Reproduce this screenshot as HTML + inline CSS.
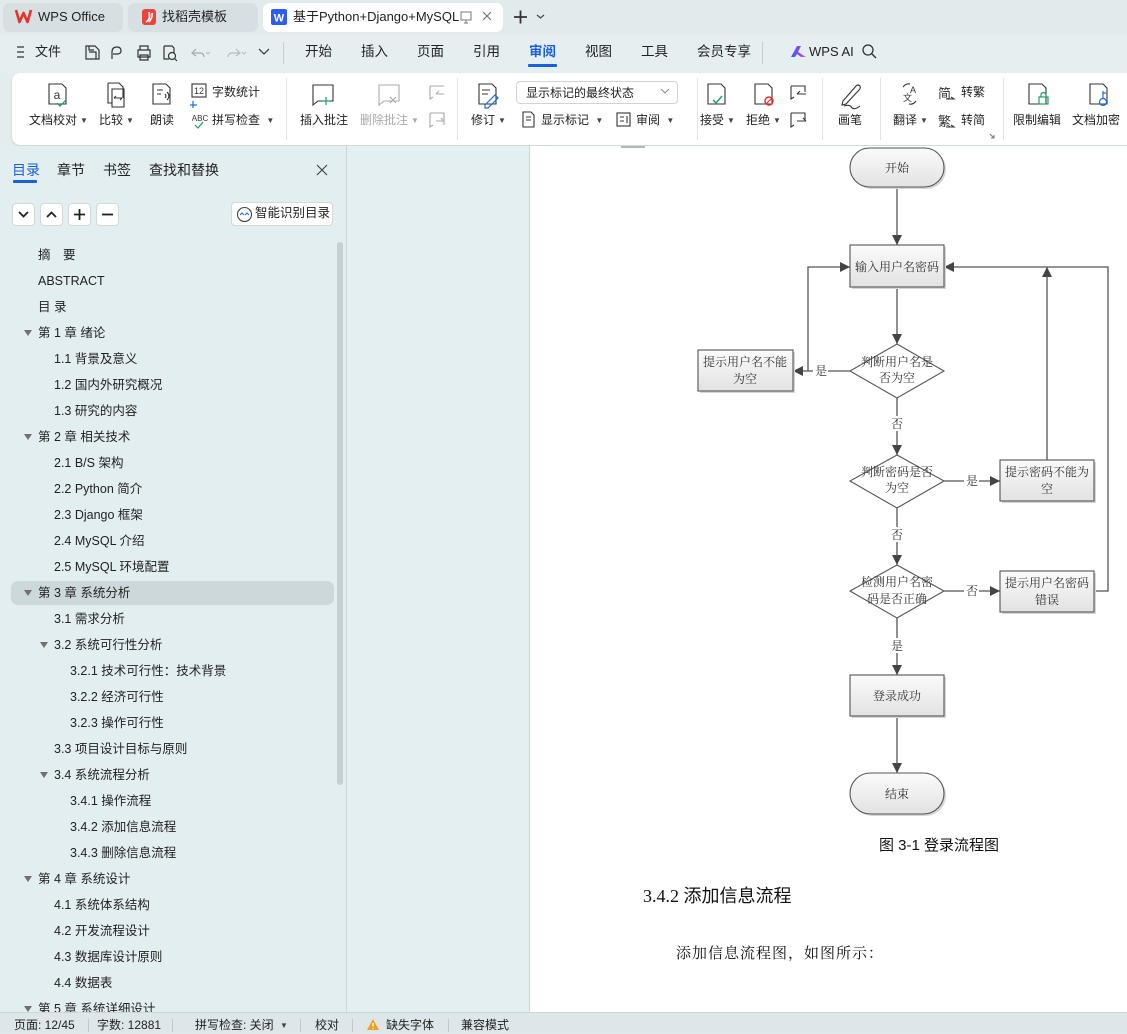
<!DOCTYPE html>
<html><head><meta charset="utf-8">
<style>
*{margin:0;padding:0;box-sizing:border-box}
body{width:1127px;height:1033px;overflow:hidden;background:#e3edee;font-family:"Liberation Sans","Noto Sans CJK SC",sans-serif;color:#222;position:relative}
.a{position:absolute;white-space:nowrap}
.toc{position:absolute;white-space:nowrap;font-size:12.5px;line-height:16px;color:#222}
.tri{position:absolute;width:0;height:0;border-left:4px solid transparent;border-right:4px solid transparent;border-top:6px solid #707070}
.rl{position:absolute;white-space:nowrap;font-size:12px;line-height:16px;color:#222}
.dd{font-size:8px;color:#444;margin-left:3px;vertical-align:1px}
.sep{position:absolute;width:1px;background:#e2e4e4}
.sb{position:absolute;white-space:nowrap;font-size:12px;line-height:16px;color:#222;top:1017px}
.ss{position:absolute;width:1px;height:13px;background:#bfc8ca;top:1019px}
.btn{position:absolute;width:23px;height:23px;background:#fff;border:1px solid #d3d8d9;border-radius:4px}
</style></head><body>

<!-- tab bar -->
<div class="a" style="left:0;top:0;width:1127px;height:35px;background:#e1ebec"></div>
<div class="a" style="left:3px;top:3px;width:120px;height:29px;background:#d6e0e2;border-radius:7px"></div>
<div class="a" style="left:128px;top:3px;width:130px;height:29px;background:#d6e0e2;border-radius:7px"></div>
<div class="a" style="left:263px;top:3px;width:240px;height:29px;background:#fff;border-radius:7px"></div>
<svg class="a" style="left:0;top:0" width="560" height="35">
  <path d="M16 10 L19.5 22 L23.5 13 L27.5 22 L31 10" fill="none" stroke="#e8332a" stroke-width="2.6" stroke-linejoin="round"/>
  <rect x="142" y="9" width="14" height="16" rx="3" fill="#e8463c"/>
  <path d="M146 22 Q151 19 149 12 M149 22 Q153 17 152 13" stroke="#fff" stroke-width="1.6" fill="none"/>
  <rect x="271" y="9" width="16" height="16" rx="2" fill="#2f5cf0"/>
  <text x="279" y="21.5" font-size="11" font-weight="bold" fill="#fff" text-anchor="middle" font-family="Liberation Sans">W</text>
  <rect x="461" y="12" width="10" height="8" fill="none" stroke="#777" stroke-width="1"/>
  <path d="M464 23 H468 M466 20 V23" stroke="#777"/>
  <path d="M483 12 L491 20 M491 12 L483 20" stroke="#777" stroke-width="1.2"/>
  <path d="M514 17 H527 M520.5 10.5 V23.5" stroke="#333" stroke-width="1.8"/>
  <path d="M537 15 L540.5 18 L544 15" fill="none" stroke="#444" stroke-width="1.2"/>
</svg>
<div class="a" style="left:38px;top:8px;font-size:13px;line-height:18px">WPS Office</div>
<div class="a" style="left:162px;top:8px;font-size:13px;line-height:18px">找稻壳模板</div>
<div class="a" style="left:293px;top:8px;font-size:13px;line-height:18px;width:166px;overflow:hidden">基于Python+Django+MySQL数据库</div>

<!-- menu row -->
<div class="a" style="left:0;top:35px;width:1127px;height:38px;background:#e5eff0"></div>
<svg class="a" style="left:0;top:35px" width="900" height="36">
  <path d="M17 12 H24 M17 17 H24 M17 22 H24" stroke="#333" stroke-width="1.2"/>
  <path d="M86 11 H95 L99 15 V24 H86 Z M89 17 H96 V24 M89 11 V15 H94" fill="none" stroke="#333" stroke-width="1.2"/>
  <path d="M112 24 L112 17 Q112 12 117 12 Q121 12 121 16 Q121 19 117 19 L113 19" fill="none" stroke="#333" stroke-width="1.2"/>
  <path d="M138 15 H150 V22 H138 Z M140 15 V11 H148 V15 M140 20 H148 V25 H140 Z" fill="none" stroke="#333" stroke-width="1.2"/>
  <path d="M164 11 H172 L174 13 V18 M164 11 V24 H169" fill="none" stroke="#333" stroke-width="1.2"/>
  <circle cx="172" cy="21" r="3.5" fill="none" stroke="#333" stroke-width="1.2"/><path d="M174.5 23.5 L177 26" stroke="#333" stroke-width="1.2"/>
  <path d="M196 14 L192 18 L196 21 M192 18 H200 Q204 18 204 22" fill="none" stroke="#aaa" stroke-width="1.2"/>
  <path d="M206 17 L208 19 L210 17" fill="none" stroke="#bbb"/>
  <path d="M236 14 L240 18 L236 21 M240 18 H232 Q228 18 228 22" fill="none" stroke="#bbb" stroke-width="1.2"/>
  <path d="M242 17 L244 19 L246 17" fill="none" stroke="#bbb"/>
  <path d="M259 14 L264 19 L269 14" fill="none" stroke="#444" stroke-width="1.3"/>
  <rect x="283" y="7" width="1" height="22" fill="#c5cdcf"/>
  <rect x="762" y="7" width="1" height="22" fill="#c5cdcf"/>
  <rect x="528" y="29" width="29" height="3" rx="1" fill="#1a5fe0"/>
  <defs><linearGradient id="ai" x1="0" x2="1"><stop offset="0" stop-color="#3a5cf5"/><stop offset="0.6" stop-color="#8a4cf0"/><stop offset="1" stop-color="#f06aa0"/></linearGradient></defs>
  <path d="M791 22 L797 11 H801 L798 17 L806 22 H801 L797 19 L795 22 Z" fill="url(#ai)"/>
  <circle cx="868" cy="15" r="5" fill="none" stroke="#333" stroke-width="1.3"/><path d="M872 19 L876 23" stroke="#333" stroke-width="1.4"/>
</svg>
<div class="a" style="left:35px;top:43px;font-size:13px;line-height:18px">文件</div>
<div class="a" style="left:305px;top:43px;font-size:13.5px;line-height:18px">开始</div>
<div class="a" style="left:361px;top:43px;font-size:13.5px;line-height:18px">插入</div>
<div class="a" style="left:417px;top:43px;font-size:13.5px;line-height:18px">页面</div>
<div class="a" style="left:473px;top:43px;font-size:13.5px;line-height:18px">引用</div>
<div class="a" style="left:529px;top:43px;font-size:13.5px;line-height:18px;color:#1a5fe0;font-weight:bold">审阅</div>
<div class="a" style="left:585px;top:43px;font-size:13.5px;line-height:18px">视图</div>
<div class="a" style="left:641px;top:43px;font-size:13.5px;line-height:18px">工具</div>
<div class="a" style="left:697px;top:43px;font-size:13.5px;line-height:18px">会员专享</div>
<div class="a" style="left:809px;top:43px;font-size:13px;line-height:18px">WPS AI</div>

<!-- ribbon -->
<div class="a" style="left:12px;top:73px;width:1130px;height:72px;background:#fff;border-radius:8px;box-shadow:0 1px 2px rgba(0,0,0,0.12)"></div>
<div class="sep" style="left:286px;top:78px;height:62px"></div>
<div class="sep" style="left:457px;top:78px;height:62px"></div>
<div class="sep" style="left:697px;top:78px;height:62px"></div>
<div class="sep" style="left:822px;top:78px;height:62px"></div>
<div class="sep" style="left:880px;top:78px;height:62px"></div>
<div class="sep" style="left:1003px;top:78px;height:62px"></div>
<svg class="a" style="left:0;top:70px" width="1127" height="80">
  <g fill="none" stroke="#333" stroke-width="1.1">
    <path d="M49 14 H62 L66 18 V34 H49 Z"/>
    <text x="57" y="29" font-size="12" fill="#333" stroke="none" text-anchor="middle" font-family="Liberation Sans">a</text>
    <path d="M108 13 H119 L123 17 V28 M108 13 V33 H112 M112 19 H124 V37 H112 Z" />
    <path d="M114 28 H122 M114 28 L116 26 M122 28 L120 30"/>
    <path d="M153 14 H166 L170 18 V34 H153 Z M157 20 H163 M157 24 H161"/>
    <path d="M165 24 Q167 26 165 28 M167 22 Q171 26 167 30"/>
    <rect x="192" y="14" width="14" height="13"/>
    <path d="M313 15 H333 V31 H318 L313 35 Z"/>
    <path d="M479 14 H492 L496 18 V34 H479 Z M482 20 H490 M482 24 H488"/>
    <path d="M523 42 H531 L534 45 V57 H523 Z M526 47 H531 M526 50 H531"/>
    <rect x="617" y="43" width="13" height="13"/><path d="M620 47 H624 M620 51 H624 M627 46 V53"/>
    <path d="M708 14 H721 L725 18 V34 H708 Z"/>
    <path d="M755 14 H768 L772 18 V34 H755 Z"/>
    <path d="M843 31 L856 16 Q858 14 860 16 Q861 18 859 20 L846 34 L842 35 Z M844 36 Q850 34 852 38 Q855 40 860 36"/>
    <path d="M903 17 Q906 13 910 14 M916 31 Q913 35 909 34"/>
    <path d="M1029 14 H1042 L1046 18 V34 H1029 Z"/>
    <path d="M1090 14 H1103 L1107 18 V34 H1090 Z"/>
  </g>
  <g fill="none" stroke-width="1.2">
    <path d="M57 33 L60 36 L66 30" stroke="#1aa060"/>
    <path d="M326 27 V35 M322 31 H330" stroke="#1aa060"/>
    <path d="M485 35 L495 25 L498 28 L488 38 H485 Z" stroke="#1a6de0"/>
    <path d="M713 30 L716 33 L722 26" stroke="#1aa060" stroke-width="1.4"/>
    <circle cx="769" cy="31" r="4" stroke="#e03030" stroke-width="1.4"/><path d="M766 34 L772 28" stroke="#e03030"/>
    <rect x="1039" y="27" width="9" height="7" stroke="#1aa060"/><path d="M1041 27 V24 Q1043.5 21 1046 24 V27" stroke="#1aa060"/>
    <circle cx="1103" cy="32" r="3.5" stroke="#1a6de0"/><path d="M1103 28 V21 M1103 23 H1106" stroke="#1a6de0"/>
    <path d="M193 31 V38 M190 35 H197" stroke="#1a6de0"/>
    <path d="M195 55 L198 58 L203 52" stroke="#1aa060"/>
  </g>
  <g fill="none" stroke="#aaa" stroke-width="1.1">
    <path d="M379 15 H399 V31 H384 L379 35 Z M390 27 L396 33 M396 27 L390 33"/>
    <path d="M430 16 H444 M430 16 V29 L433 27 M436 24 H444 M436 24 L439 21"/>
    <path d="M430 43 H444 V55 M430 43 V57 L433 55 M436 51 H444 M444 51 L441 48"/>
  </g>
  <g fill="none" stroke="#333" stroke-width="1.1">
    <path d="M791 16 H805 V22 M791 16 V29 L794 27 M797 24 H806 M797 24 L800 21"/>
    <path d="M791 43 H805 V50 M791 43 V57 L794 55 M797 51 H806 M806 51 L803 48"/>
    <path d="M946 29 H954 L951 27"/>
    <path d="M946 57 H954 L951 55"/>
  </g>
  <text x="199" y="24" font-size="9" fill="#333" text-anchor="middle" font-family="Liberation Sans">12</text>
  <text x="200" y="51" font-size="8" fill="#333" text-anchor="middle" font-family="Liberation Sans">ABC</text>
  <text x="903" y="31" font-size="9" fill="#333" font-family="Liberation Sans">文</text>
  <text x="910" y="23" font-size="9" fill="#333" font-family="Liberation Sans">A</text>
  <text x="938" y="56" font-size="13" fill="#333" font-family="Noto Sans CJK SC">繁</text>
  <text x="938" y="28" font-size="13" fill="#333" font-family="Noto Sans CJK SC">简</text>
  <path d="M990 64 L994 68 M994 65 V68 H991" stroke="#777" fill="none"/>
</svg>
<div class="rl" style="left:29px;top:112px">文档校对<span class="dd">▼</span></div>
<div class="rl" style="left:99px;top:112px">比较<span class="dd">▼</span></div>
<div class="rl" style="left:150px;top:112px">朗读</div>
<div class="rl" style="left:212px;top:84px">字数统计</div>
<div class="rl" style="left:212px;top:112px">拼写检查 <span class="dd">▼</span></div>
<div class="rl" style="left:300px;top:112px">插入批注</div>
<div class="rl" style="left:360px;top:112px;color:#aaa">删除批注<span class="dd" style="color:#aaa">▼</span></div>
<div class="rl" style="left:471px;top:112px">修订<span class="dd">▼</span></div>
<div class="a" style="left:516px;top:81px;width:162px;height:23px;border:1px solid #cfd3d4;border-radius:4px;background:#fff"></div>
<div class="rl" style="left:526px;top:85px">显示标记的最终状态</div>
<svg class="a" style="left:660px;top:88px" width="12" height="8"><path d="M1 1 L5 5 L9 1" fill="none" stroke="#888"/></svg>
<div class="rl" style="left:541px;top:112px">显示标记 <span class="dd">▼</span></div>
<div class="rl" style="left:636px;top:112px">审阅 <span class="dd">▼</span></div>
<div class="rl" style="left:700px;top:112px">接受<span class="dd">▼</span></div>
<div class="rl" style="left:746px;top:112px">拒绝<span class="dd">▼</span></div>
<div class="rl" style="left:838px;top:112px">画笔</div>
<div class="rl" style="left:893px;top:112px">翻译<span class="dd">▼</span></div>
<div class="rl" style="left:961px;top:84px">转繁</div>
<div class="rl" style="left:961px;top:112px">转简</div>
<div class="rl" style="left:1013px;top:112px">限制编辑</div>
<div class="rl" style="left:1072px;top:112px">文档加密</div>

<!-- left panel -->
<div class="a" style="left:0;top:146px;width:346px;height:866px;background:#e3eef0"></div>
<div class="a" style="left:346px;top:146px;width:1px;height:866px;background:#cfd6d8"></div>
<div class="a" style="left:347px;top:146px;width:183px;height:866px;background:#e3eff0"></div>
<div class="a" style="left:529px;top:146px;width:1px;height:866px;background:#d0d6d8"></div>
<div class="a" style="left:530px;top:146px;width:597px;height:866px;background:#fff"></div>
<div class="a" style="left:621px;top:146px;width:24px;height:2px;background:#b8b8b8"></div>

<div class="a" style="left:12px;top:161px;font-size:14px;line-height:18px;color:#1a5fe0">目录</div>
<div class="a" style="left:13px;top:180px;width:24px;height:3px;background:#1a5fe0;border-radius:1px"></div>
<div class="a" style="left:57px;top:161px;font-size:14px;line-height:18px">章节</div>
<div class="a" style="left:103px;top:161px;font-size:14px;line-height:18px">书签</div>
<div class="a" style="left:149px;top:161px;font-size:14px;line-height:18px">查找和替换</div>
<svg class="a" style="left:316px;top:164px" width="12" height="12"><path d="M1 1 L11 11 M11 1 L1 11" stroke="#444" stroke-width="1.2"/></svg>

<div class="btn" style="left:12px;top:203px"></div>
<div class="btn" style="left:40px;top:203px"></div>
<div class="btn" style="left:68px;top:203px"></div>
<div class="btn" style="left:96px;top:203px"></div>
<svg class="a" style="left:0;top:200px" width="340" height="30">
  <path d="M19 12 L23.5 16.5 L28 12" fill="none" stroke="#222" stroke-width="1.8"/>
  <path d="M47 17 L51.5 12.5 L56 17" fill="none" stroke="#222" stroke-width="1.8"/>
  <path d="M74 14.5 H85 M79.5 9 V20" stroke="#222" stroke-width="1.8"/>
  <path d="M102 14.5 H113" stroke="#222" stroke-width="1.8"/>
</svg>
<div class="a" style="left:231px;top:202px;width:102px;height:24px;background:#fff;border:1px solid #d3d8d9;border-radius:4px"></div>
<svg class="a" style="left:236px;top:206px" width="17" height="17"><circle cx="8.5" cy="8.5" r="7" fill="none" stroke="#444" stroke-width="1.1"/><path d="M4 9 L6 7 L8 9 M9 9 L11 7 L13 9" fill="none" stroke="#1a6de0"/></svg>
<div class="a" style="left:255px;top:205px;font-size:12.5px;line-height:16px">智能识别目录</div>

<div class="a" style="left:11px;top:581px;width:323px;height:24px;background:#cdd8db;border-radius:7px"></div>
<div class="a" style="left:337px;top:242px;width:6px;height:543px;background:#c6cfd1;border-radius:3px"></div>

<div class="toc" style="left:38px;top:247px">摘　要</div>
<div class="toc" style="left:38px;top:273px">ABSTRACT</div>
<div class="toc" style="left:38px;top:299px">目 录</div>
<div class="tri" style="left:24px;top:330px"></div><div class="toc" style="left:38px;top:325px">第 1 章  绪论</div>
<div class="toc" style="left:54px;top:351px">1.1 背景及意义</div>
<div class="toc" style="left:54px;top:377px">1.2  国内外研究概况</div>
<div class="toc" style="left:54px;top:403px">1.3  研究的内容</div>
<div class="tri" style="left:24px;top:434px"></div><div class="toc" style="left:38px;top:429px">第 2 章  相关技术</div>
<div class="toc" style="left:54px;top:455px">2.1 B/S 架构</div>
<div class="toc" style="left:54px;top:481px">2.2 Python 简介</div>
<div class="toc" style="left:54px;top:507px">2.3 Django 框架</div>
<div class="toc" style="left:54px;top:533px">2.4 MySQL  介绍</div>
<div class="toc" style="left:54px;top:559px">2.5 MySQL 环境配置</div>
<div class="tri" style="left:24px;top:590px"></div><div class="toc" style="left:38px;top:585px">第 3 章  系统分析</div>
<div class="toc" style="left:54px;top:611px">3.1  需求分析</div>
<div class="tri" style="left:40px;top:642px"></div><div class="toc" style="left:54px;top:637px">3.2  系统可行性分析</div>
<div class="toc" style="left:70px;top:663px">3.2.1 技术可行性：技术背景</div>
<div class="toc" style="left:70px;top:689px">3.2.2 经济可行性</div>
<div class="toc" style="left:70px;top:715px">3.2.3 操作可行性</div>
<div class="toc" style="left:54px;top:741px">3.3  项目设计目标与原则</div>
<div class="tri" style="left:40px;top:772px"></div><div class="toc" style="left:54px;top:767px">3.4 系统流程分析</div>
<div class="toc" style="left:70px;top:793px">3.4.1 操作流程</div>
<div class="toc" style="left:70px;top:819px">3.4.2 添加信息流程</div>
<div class="toc" style="left:70px;top:845px">3.4.3 删除信息流程</div>
<div class="tri" style="left:24px;top:876px"></div><div class="toc" style="left:38px;top:871px">第 4 章  系统设计</div>
<div class="toc" style="left:54px;top:897px">4.1  系统体系结构</div>
<div class="toc" style="left:54px;top:923px">4.2 开发流程设计</div>
<div class="toc" style="left:54px;top:949px">4.3  数据库设计原则</div>
<div class="toc" style="left:54px;top:975px">4.4 数据表</div>
<div class="tri" style="left:24px;top:1006px"></div><div class="toc" style="left:38px;top:1001px">第 5 章  系统详细设计</div>

<!-- flowchart -->
<svg class="a" style="left:0;top:0" width="1127" height="1033">
  <defs>
    <linearGradient id="g" x1="0" y1="0" x2="0" y2="1"><stop offset="0" stop-color="#fbfbfb"/><stop offset="1" stop-color="#e2e2e2"/></linearGradient>
    <marker id="ar" viewBox="0 0 10 10" refX="10" refY="5" markerWidth="10" markerHeight="10" markerUnits="userSpaceOnUse" orient="auto"><path d="M0 0 L10 5 L0 10 Z" fill="#444"/></marker>
  </defs>
  <g stroke="#555" stroke-width="1.3" fill="none">
    <path d="M897 187 V245" marker-end="url(#ar)"/>
    <path d="M897 287 V344" marker-end="url(#ar)"/>
    <path d="M850 371 H793" marker-end="url(#ar)"/>
    <path d="M808 371 V267 H850" marker-end="url(#ar)"/>
    <path d="M897 398 V455" marker-end="url(#ar)"/>
    <path d="M944 481 H1000" marker-end="url(#ar)"/>
    <path d="M1047 460 V267" marker-end="url(#ar)"/>
    <path d="M897 508 V565" marker-end="url(#ar)"/>
    <path d="M944 591 H1000" marker-end="url(#ar)"/>
    <path d="M1094 591 H1108 V267 H944" marker-end="url(#ar)"/>
    <path d="M897 618 V675" marker-end="url(#ar)"/>
    <path d="M897 716 V773" marker-end="url(#ar)"/>
  </g>
  <g fill="#d6d6d6" stroke="none">
    <rect x="852" y="150" width="94" height="39" rx="19.5"/>
    <rect x="852" y="247" width="94" height="42"/>
    <rect x="700" y="352" width="95" height="41"/>
    <rect x="1002" y="462" width="94" height="41"/>
    <rect x="1002" y="573" width="94" height="41"/>
    <rect x="852" y="677" width="94" height="41"/>
    <rect x="852" y="775" width="94" height="41" rx="20.5"/>
  </g>
  <g fill="url(#g)" stroke="#555" stroke-width="1.1">
    <rect x="850" y="148" width="94" height="39" rx="19.5"/>
    <rect x="850" y="245" width="94" height="42"/>
    <rect x="698" y="350" width="95" height="41"/>
    <rect x="1000" y="460" width="94" height="41"/>
    <rect x="1000" y="571" width="94" height="41"/>
    <rect x="850" y="675" width="94" height="41"/>
    <rect x="850" y="773" width="94" height="41" rx="20.5"/>
  </g>
  <g fill="#fff" stroke="#555" stroke-width="1.1">
    <path d="M897 344 L944 371 L897 398 L850 371 Z"/>
    <path d="M897 455 L944 481 L897 508 L850 481 Z"/>
    <path d="M897 565 L944 591 L897 618 L850 591 Z"/>
  </g>
  <g fill="#fff">
    <rect x="813" y="363" width="15" height="15"/>
    <rect x="890" y="416" width="15" height="15"/>
    <rect x="964" y="473" width="15" height="15"/>
    <rect x="890" y="527" width="15" height="15"/>
    <rect x="964" y="583" width="15" height="15"/>
    <rect x="890" y="638" width="15" height="15"/>
  </g>
  <g font-family="Noto Serif CJK SC, serif" font-size="12" fill="#333" text-anchor="middle">
    <text x="897" y="172">开始</text>
    <text x="897" y="271">输入用户名密码</text>
    <text x="897" y="366">判断用户名是</text>
    <text x="897" y="382">否为空</text>
    <text x="745" y="366">提示用户名不能</text>
    <text x="745" y="383">为空</text>
    <text x="897" y="476">判断密码是否</text>
    <text x="897" y="492">为空</text>
    <text x="1047" y="476">提示密码不能为</text>
    <text x="1047" y="493">空</text>
    <text x="897" y="586">检测用户名密</text>
    <text x="897" y="603">码是否正确</text>
    <text x="1047" y="587">提示用户名密码</text>
    <text x="1047" y="604">错误</text>
    <text x="897" y="700">登录成功</text>
    <text x="897" y="798">结束</text>
    <text x="821" y="375">是</text>
    <text x="897" y="428">否</text>
    <text x="972" y="485">是</text>
    <text x="897" y="539">否</text>
    <text x="972" y="595">否</text>
    <text x="897" y="650">是</text>
  </g>
</svg>

<div class="a" style="left:879px;top:836px;font-size:15px;line-height:20px;color:#111">图 3-1 登录流程图</div>
<div class="a" style="left:643px;top:885px;font-size:18px;line-height:22px;color:#111;font-family:'Liberation Serif','Noto Sans CJK SC',sans-serif">3.4.2 添加信息流程</div>
<div class="a" style="left:676px;top:943px;font-size:15px;line-height:20px;color:#111;letter-spacing:1px;font-family:'Noto Serif CJK SC',serif">添加信息流程图，如图所示：</div>

<!-- status bar -->
<div class="a" style="left:0;top:1012px;width:1127px;height:21px;background:#dde7ea;border-top:1px solid #cdd5d7"></div>
<div class="sb" style="left:14px">页面: 12/45</div>
<div class="ss" style="left:88px"></div>
<div class="sb" style="left:97px">字数: 12881</div>
<div class="ss" style="left:172px"></div>
<div class="sb" style="left:195px">拼写检查: 关闭 <span class="dd">▼</span></div>
<div class="ss" style="left:300px"></div>
<div class="sb" style="left:315px">校对</div>
<div class="ss" style="left:352px"></div>
<svg class="a" style="left:366px;top:1018px" width="14" height="13"><path d="M7 1 L13 12 H1 Z" fill="#f0a020"/><path d="M7 5 V8.5 M7 10 V11" stroke="#fff" stroke-width="1.4"/></svg>
<div class="sb" style="left:386px">缺失字体</div>
<div class="ss" style="left:448px"></div>
<div class="sb" style="left:461px">兼容模式</div>

</body></html>
